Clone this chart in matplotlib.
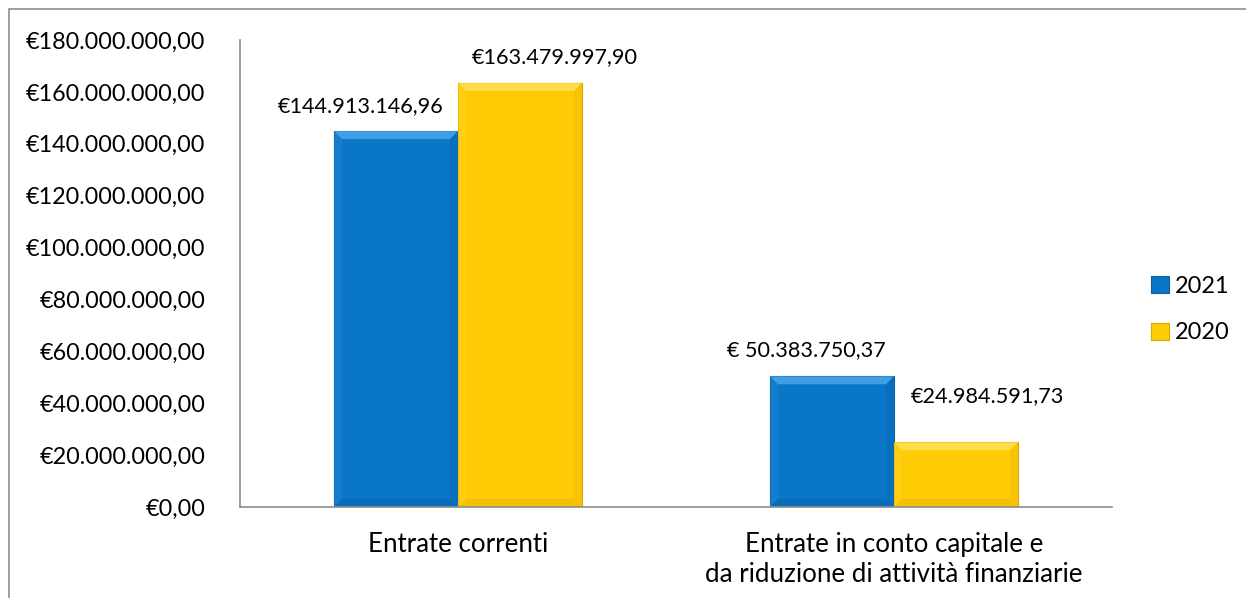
import matplotlib
matplotlib.use("Agg")
import matplotlib.pyplot as plt
import numpy as np
from matplotlib.patches import Rectangle, Polygon
from matplotlib.ticker import FuncFormatter

categories = ["Entrate correnti", "Entrate in conto capitale e\nda riduzione di attività finanziarie"]
series_names = ["2021", "2020"]
values_2021 = [144913146.96, 50383750.37]
values_2020 = [163479997.90, 24984591.73]
labels_2021 = ["€144.913.146,96", "€ 50.383.750,37"]
labels_2020 = ["€163.479.997,90", "€24.984.591,73"]
yticks = [0, 20e6, 40e6, 60e6, 80e6, 100e6, 120e6, 140e6, 160e6, 180e6]

plt.rcParams['font.family'] = ['Lato', 'DejaVu Sans']

W, H = 1246, 598
fig = plt.figure(figsize=(W/100, H/100), dpi=100)
fig.patches.append(Rectangle((9/W, -0.1), 1.2, (1 - 9/H) + 0.1, transform=fig.transFigure,
                             fill=False, edgecolor="#8c8c8c", linewidth=1.2))
ax = fig.add_axes([240/W, 1 - 507/H, (1112 - 240)/W, (507 - 40)/H])

x = np.arange(len(categories))
bw = 0.2845
c21 = "#0A76C8"
c20 = "#FFCB05"
b1 = ax.bar(x - bw/2, values_2021, bw, color=c21, edgecolor="#0a5fa3", linewidth=0.8, label=series_names[0])
b2 = ax.bar(x + bw/2, values_2020, bw, color=c20, edgecolor="#d9a800", linewidth=0.8, label=series_names[1])

ax.set_xlim(-0.5, 1.5)
ax.set_ylim(0, 180e6)

# subtle bevel effect derived from the bar geometry
bev_px = 8
dx = bev_px * (ax.get_xlim()[1] - ax.get_xlim()[0]) / (1112 - 240)
dy = bev_px * (ax.get_ylim()[1] - ax.get_ylim()[0]) / (507 - 40)
shades = {
    c21: ("#5ab0f0", "#1f84d2", "#0868b6", "#0764b0"),
    c20: ("#ffe66a", "#ffd21f", "#f0bd00", "#eab800"),
}
for bars, col in ((b1, c21), (b2, c20)):
    top_c, left_c, right_c, bot_c = shades[col]
    for r in bars:
        x0, y0 = r.get_x(), r.get_y()
        w, h = r.get_width(), r.get_height()
        x1, y1 = x0 + w, y0 + h
        polys = [
            ([(x0, y1), (x1, y1), (x1 - dx, y1 - dy), (x0 + dx, y1 - dy)], top_c, 0.7),
            ([(x0, y0), (x0, y1), (x0 + dx, y1 - dy), (x0 + dx, y0 + dy)], left_c, 0.5),
            ([(x1, y0), (x1, y1), (x1 - dx, y1 - dy), (x1 - dx, y0 + dy)], right_c, 0.5),
            ([(x0, y0), (x1, y0), (x1 - dx, y0 + dy), (x0 + dx, y0 + dy)], bot_c, 0.5),
        ]
        for pts, c, a in polys:
            ax.add_patch(Polygon(pts, closed=True, facecolor=c, edgecolor="none", alpha=a, zorder=2.5))

offs21 = [(-35, 25), (-26, 26)]
offs20 = [(35, 26), (31, 46)]
for i in range(len(categories)):
    ax.annotate(labels_2021[i], xy=(x[i] - bw/2, values_2021[i]), xytext=offs21[i],
                textcoords="offset pixels", ha="center", va="center", fontsize=15.6)
    ax.annotate(labels_2020[i], xy=(x[i] + bw/2, values_2020[i]), xytext=offs20[i],
                textcoords="offset pixels", ha="center", va="center", fontsize=15.6)

ax.set_yticks(yticks)
ax.yaxis.set_major_formatter(FuncFormatter(
    lambda v, p: "€" + f"{v:,.2f}".replace(",", "X").replace(".", ",").replace("X", ".")))
ax.set_xticks(x)
ax.set_xticklabels(categories, fontsize=18.6, linespacing=1.25)
ax.tick_params(axis="y", length=0, pad=25, labelsize=16.8)
ax.tick_params(axis="x", length=0, pad=18)
for s in ["top", "right"]:
    ax.spines[s].set_visible(False)
for s in ["left", "bottom"]:
    ax.spines[s].set_color("#8c8c8c")
    ax.spines[s].set_linewidth(1.2)

leg = ax.legend(loc="center left", bbox_to_anchor=(1.045, 0.423), frameon=False, fontsize=16.9,
                handlelength=0.75, handleheight=0.75, handletextpad=0.25, labelspacing=1.1,
                borderaxespad=0, borderpad=0)

fig.savefig("out.png", dpi=100)
